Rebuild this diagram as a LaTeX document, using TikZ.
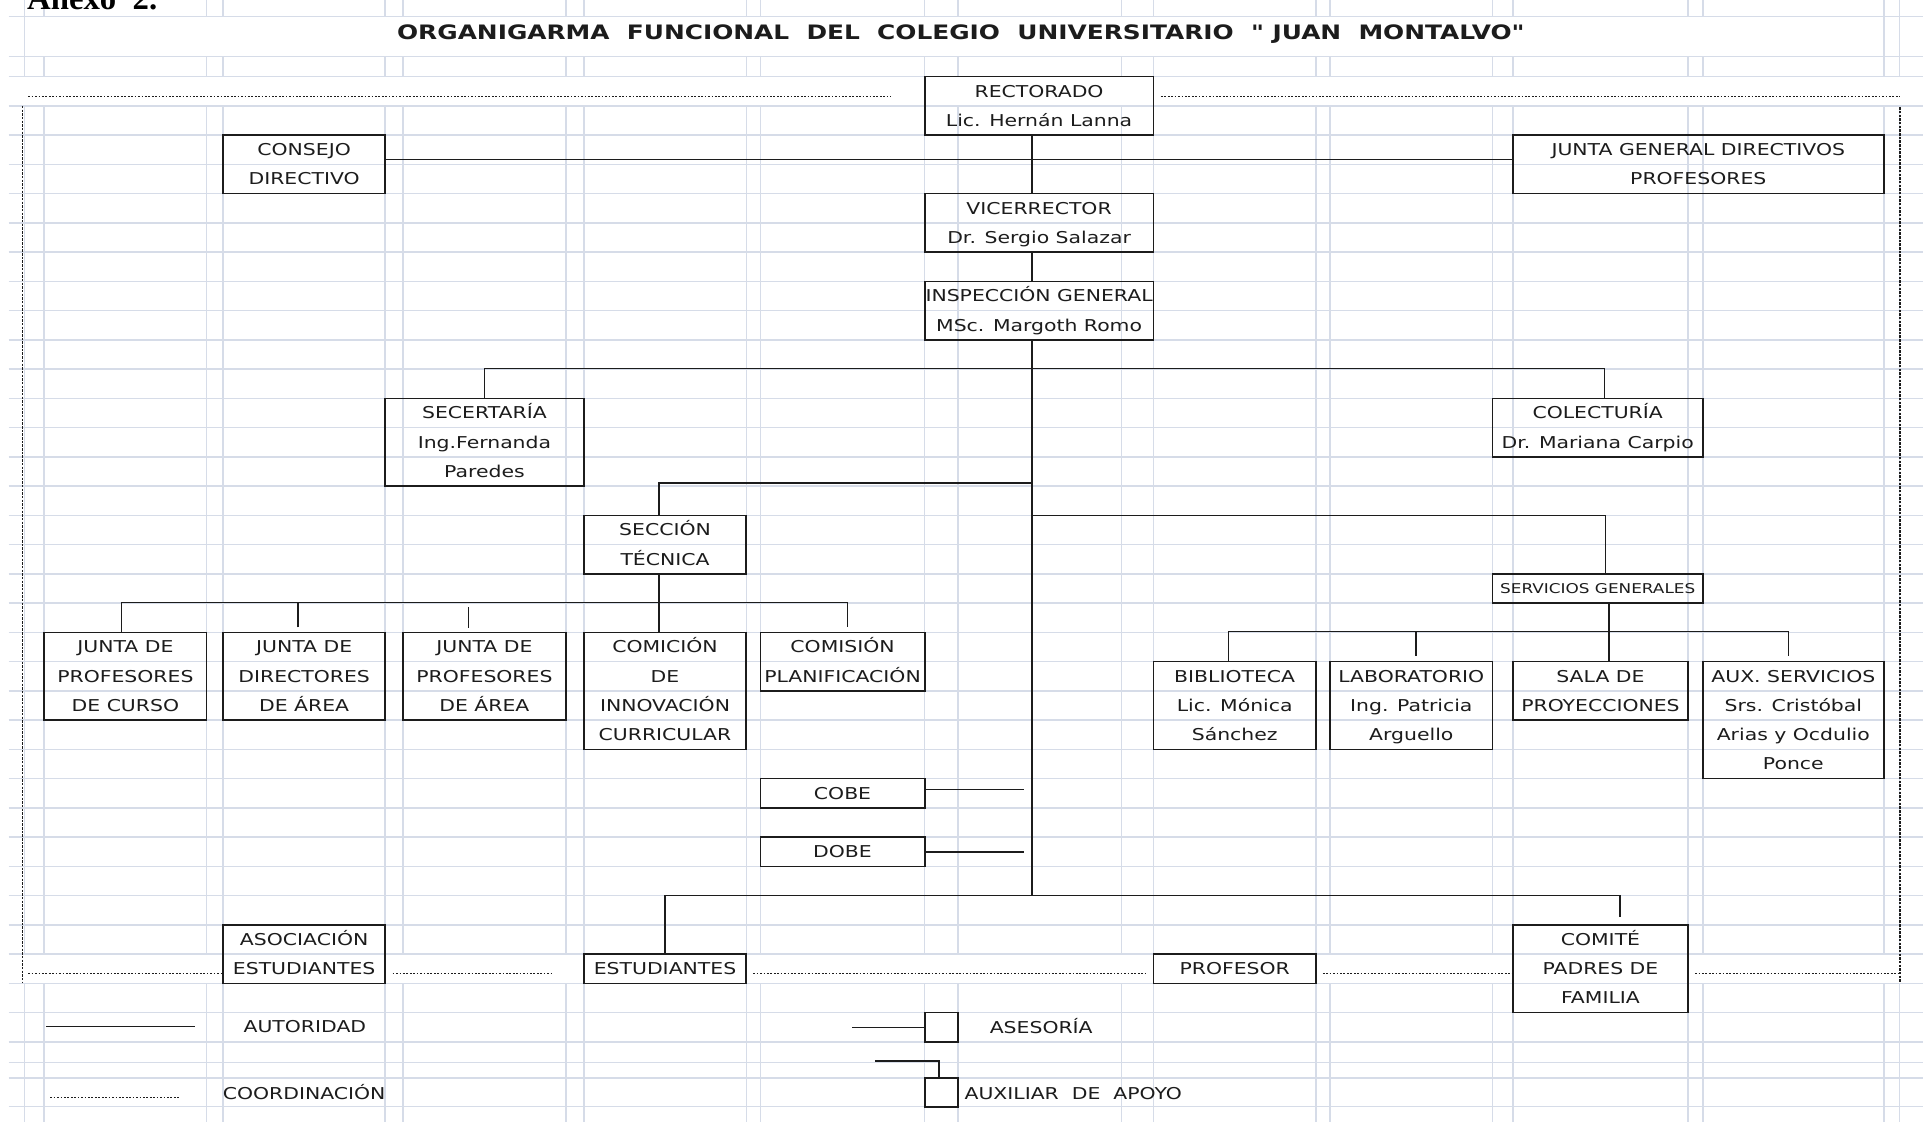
\documentclass[tikz,border=0pt]{standalone}
\usepackage{fontspec}
\setmainfont{DejaVu Sans}[FakeStretch=1.25]
\newfontfamily\titlefont{DejaVu Sans}[FakeStretch=1.25]
\newfontfamily\anexofont{Liberation Serif}
\definecolor{gridc}{HTML}{D6DCE8}
\definecolor{ink}{HTML}{1C1C1C}
\tikzset{
  gridline/.style={draw=gridc, line width=1.2pt},
  box/.style={draw=ink, line width=1.3pt, inner sep=0pt, align=center, font=\fontsize{13.3}{23.85}\selectfont, text=ink},
  one/.style={text height=9.7pt, text depth=0pt},
  two/.style={text height=33.55pt, text depth=0pt},
  three/.style={text height=57.4pt, text depth=0pt},
  four/.style={text height=81.25pt, text depth=0pt},
  conn/.style={draw=ink, line width=1.2pt},
  coordl/.style={draw=ink, line width=1pt, dash pattern=on 1.4pt off 1.4pt},
  coordv/.style={draw=ink, line width=1.3pt, dash pattern=on 2pt off 1pt},
  lbl/.style={inner sep=0pt, font=\fontsize{13.3}{16}\selectfont, text=ink, text height=9.7pt, text depth=0pt}
}
\newcommand\orgbox[7]{\node[box,#7,minimum width={(#4-#2)*1pt},minimum height={(#5-#3)*1pt}] (#1) at ({(#2+#4)/2},{(#3+#5)/2}) {#6};}
\begin{document}
\begin{tikzpicture}[x=1pt,y=-1pt]
\fill[white] (0,0) rectangle (1568,915);
\useasboundingbox (0,0) rectangle (1568,915);
% grid
\foreach \k in {0,...,33} \draw[gridline] (7,{62.5+23.85*\k}) -- (1568,{62.5+23.85*\k});
\foreach \yy in {13.5,46.2,866.5,878.8,902.4} \draw[gridline] (7,\yy) -- (1568,\yy);
\foreach \xx in {20,36,168.5,182,314,328.5,461.5,476,608.5,620,754,781,914.5,940.5,1073,1084.5,1217,1233.5,1376.5,1388.5,1536,1549} {
  \draw[gridline] (\xx,0) -- (\xx,13.5);
  \draw[gridline] (\xx,46.2) -- (\xx,62.5);
  \draw[gridline] (\xx,86.35) -- (\xx,778);
  \draw[gridline] (\xx,801.85) -- (\xx,915);
}
\foreach \xx in {20,1536,1549} \draw[gridline] (\xx,13.5) -- (\xx,46.2);
% titles
\node[anchor=base west, inner sep=0pt, font=\anexofont\bfseries\fontsize{26.7}{30}\selectfont] (anexo) at (22,8) {Anexo\ \ 2.};
\node[inner sep=0pt, font=\titlefont\fontsize{16.2}{18}\selectfont\bfseries, text=ink, text height=11.8pt, text depth=0pt] (title) at (783.5,26) {ORGANIGARMA\ \ FUNCIONAL\ \ DEL\ \ COLEGIO\ \ UNIVERSITARIO\ \ "\ JUAN\ \ MONTALVO"};
% boxes
\orgbox{rect}{754}{62.5}{940.5}{110.2}{RECTORADO\\Lic. Hernán Lanna}{two}
\orgbox{consejo}{182}{110.2}{314}{157.9}{CONSEJO\\DIRECTIVO}{two}
\orgbox{jgen}{1233.5}{110.2}{1536}{157.9}{JUNTA GENERAL DIRECTIVOS\\PROFESORES}{two}
\orgbox{vice}{754}{157.9}{940.5}{205.6}{VICERRECTOR\\Dr. Sergio Salazar}{two}
\orgbox{insp}{754}{229.45}{940.5}{277.15}{INSPECCIÓN GENERAL\\MSc. Margoth Romo}{two}
\orgbox{secr}{314}{324.85}{476}{396.4}{SECERTARÍA\\Ing.Fernanda\\Paredes}{three}
\orgbox{colect}{1217}{324.85}{1388.5}{372.55}{COLECTURÍA\\Dr. Mariana Carpio}{two}
\orgbox{secc}{476}{420.25}{608.5}{467.95}{SECCIÓN\\TÉCNICA}{two}
\orgbox{j1}{36}{515.65}{168.5}{587.2}{JUNTA DE\\PROFESORES\\DE CURSO}{three}
\orgbox{j2}{182}{515.65}{314}{587.2}{JUNTA DE\\DIRECTORES\\DE ÁREA}{three}
\orgbox{j3}{328.5}{515.65}{461.5}{587.2}{JUNTA DE\\PROFESORES\\DE ÁREA}{three}
\orgbox{comic}{476}{515.65}{608.5}{611.05}{COMICIÓN\\DE\\INNOVACIÓN\\CURRICULAR}{four}
\orgbox{comis}{620}{515.65}{754}{563.35}{COMISIÓN\\PLANIFICACIÓN}{two}
\orgbox{serv}{1217}{467.95}{1388.5}{491.8}{\fontsize{11}{13}\selectfont SERVICIOS GENERALES}{text height=8pt,text depth=0pt}
\orgbox{bibl}{940.5}{539.5}{1073}{611.05}{BIBLIOTECA\\Lic. Mónica\\Sánchez}{three}
\orgbox{lab}{1084.5}{539.5}{1217}{611.05}{LABORATORIO\\Ing. Patricia\\Arguello}{three}
\orgbox{sala}{1233.5}{539.5}{1376.5}{587.2}{SALA DE\\PROYECCIONES}{two}
\orgbox{aux}{1388.5}{539.5}{1536}{634.9}{AUX. SERVICIOS\\Srs. Cristóbal\\Arias y Ocdulio\\Ponce}{four}
\orgbox{cobe}{620}{634.9}{754}{658.75}{COBE}{one}
\orgbox{dobe}{620}{682.6}{754}{706.45}{DOBE}{one}
\orgbox{asoc}{182}{754.15}{314}{801.85}{ASOCIACIÓN\\ESTUDIANTES}{two}
\orgbox{estud}{476}{778}{608.5}{801.85}{ESTUDIANTES}{one}
\orgbox{prof}{940.5}{778}{1073}{801.85}{PROFESOR}{one}
\orgbox{comite}{1233.5}{754.15}{1376.5}{825.7}{COMITÉ\\PADRES DE\\FAMILIA}{three}
\orgbox{sqa}{754}{825.7}{781}{849.55}{}{one}
\orgbox{sqb}{754}{878.8}{781}{902.4}{}{one}
% coordination frame
\coordinate (ftl) at (23,79);
\coordinate (ftr) at (1549,79);
\draw[coordl] (ftl) -- ([xshift=-27pt]rect.west |- ftl);
\draw[coordl] ([xshift=5.5pt]rect.east |- ftl) -- (ftr);
\coordinate (fvl1) at (18.5,86.4);
\coordinate (fvl2) at (18.5,800.5);
\coordinate (fvr1) at (1549,87.5);
\coordinate (fvr2) at (1549,800.5);
\draw[coordv] (fvl1) -- (fvl2);
\draw[coordv] (fvr1) -- (fvr2);
\coordinate (fbl) at (23,793.5);
\coordinate (fbr) at (1549,793.5);
\draw[coordl] (fbl) -- (asoc.west |- fbl);
\draw[coordl] ([xshift=5.5pt]asoc.east |- fbl) -- ([xshift=-25pt]estud.west |- fbl);
\draw[coordl] ([xshift=5pt]estud.east |- fbl) -- ([xshift=-6pt]prof.west |- fbl);
\draw[coordl] ([xshift=5pt]prof.east |- fbl) -- (comite.west |- fbl);
\draw[coordl] ([xshift=5pt]comite.east |- fbl) -- (fbr);
% connectors
\coordinate (tx) at (841.5,0);
\coordinate (tend) at (841.5,730.3);
\coordinate (tsec) at (841.5,394);
\coordinate (tsv) at (841.5,420.25);
\draw[conn] (rect.south -| tx) -- (vice.north -| tx);
\draw[conn] (vice.south -| tx) -- (insp.north -| tx);
\draw[conn] (insp.south -| tx) -- (tend);
\draw[conn] ([yshift=4pt]consejo.east) -- ([yshift=4pt]jgen.west);
\draw[conn] (secr.north) -- ++(0,-23.85) -| ([xshift=5.5pt]colect.north);
\draw[conn] (tsec) -| ([xshift=-5pt]secc.north);
\draw[conn] ([xshift=-5pt]secc.south) -- ([xshift=-5pt]comic.north);
\draw[conn] ([xshift=-3pt]j1.north) -- ++(0,-23.85) -| ([xshift=4pt,yshift=3.5pt]comis.north);
\draw[conn] ([xshift=-5pt,yshift=3.5pt]j2.north) -- ++(0,-20.35);
\draw[conn] ([xshift=-13pt,yshift=3pt]j3.north) -- ++(0,-17);
\draw[conn] (tsv) -| ([xshift=6.25pt]serv.north);
\draw[conn] ([xshift=7pt]sala.north) -- ([xshift=7pt]sala.north |- serv.south);
\draw[conn] ([xshift=-5pt]bibl.north) -- ++(0,-23.85) -| ([xshift=-4pt,yshift=4pt]aux.north);
\draw[conn] ([xshift=4pt,yshift=4pt]lab.north) -- ++(0,-19.85);
\coordinate (cobeend) at ([xshift=80pt,yshift=3pt]cobe.east);
\coordinate (dobeend) at ([xshift=80pt]dobe.east);
\draw[conn] ([yshift=3pt]cobe.east) -- (cobeend);
\draw[conn] (dobe.east) -- (dobeend);
\draw[conn] (estud.north) |- (tend) -| ([xshift=16pt,yshift=5.5pt]comite.north);
% legend
\coordinate (la1) at (37.5,837);
\coordinate (la2) at (158.8,837);
\draw[conn] (la1) -- (la2);
\node[lbl] (lautor) at (248.6,837) {AUTORIDAD};
\coordinate (lc1) at (41,894.6);
\coordinate (lc2) at (147,894.6);
\draw[coordl] (lc1) -- (lc2);
\node[lbl] (lcoord) at (248,891.4) {COORDINACIÓN};
\coordinate (lasend) at ([xshift=-58.5pt]sqa.west);
\draw[conn] (sqa.west) -- (lasend);
\node[lbl] (lases) at (849,838) {ASESORÍA};
\coordinate (lauxend) at ([xshift=-54pt,yshift=13.1pt]sqb.north);
\draw[conn] ([xshift=-2pt]sqb.north) -- ++(0,-13.1) -- (lauxend);
\node[lbl, anchor=west] (laux) at (786.3,891.5) {AUXILIAR\ \ DE\ \ APOYO};
\end{tikzpicture}
\end{document}
